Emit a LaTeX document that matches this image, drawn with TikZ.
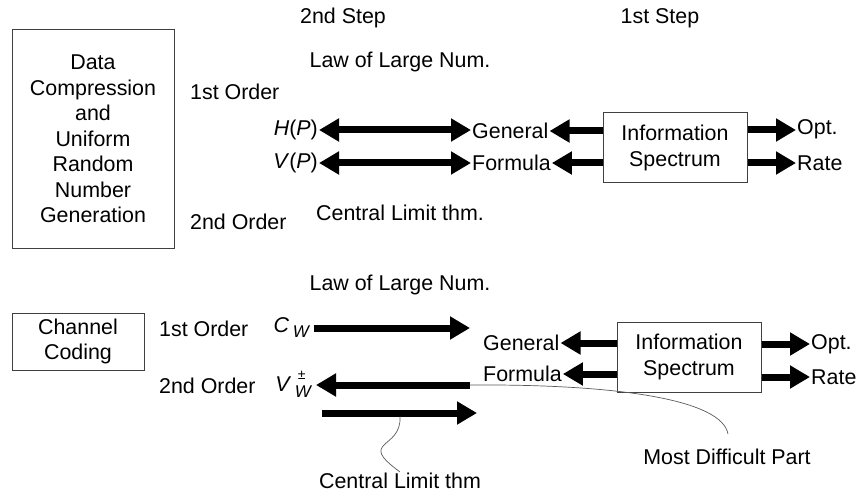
\documentclass[tikz,border=0pt]{standalone}
\usepackage{fontspec}
\setmainfont{Liberation Sans}
\usepackage{tikz}
\usetikzlibrary{arrows.meta,positioning,calc}

\begin{document}
\begin{tikzpicture}[x = 1pt, y = -1pt,
    every node/.style = {font = \fontsize{21.4}{25.5}\selectfont, inner sep = 1pt},
    blockbox/.style = {draw = black!75, line width = 1pt, align = center, inner sep = 0pt},
    bigarrow/.style = {line width = 7pt, -{Triangle[length=20pt, width=22pt]}},
    bothway/.style = {line width = 7pt, {Triangle[length=20pt, width=22pt]}-{Triangle[length=20pt, width=22pt]}},
    callout/.style = {draw = black!65, line width = .7pt}]
    \useasboundingbox (0,0) rectangle (857,500);
    \node (step2) at (343,18) {2nd Step};
    \node (step1) at (660,18) {1st Step};
    % upper part
    \node[blockbox, minimum width = 162pt, minimum height = 218pt] (dcbox) at (93,139)
        {Data\\Compression\\and\\Uniform\\Random\\Number\\Generation};
    \node (lln1) at (400,62) {Law of Large Num.};
    \node[anchor = west] (ord1a) at (189,92) {1st Order};
    \node[anchor = west] (ord2a) at (189,222) {2nd Order};
    \node[anchor = east] (hp) at (319,130) {\textit{H}(\textit{P})};
    \node[anchor = east] (vp) at (319,163) {\textit{V}(\textit{P})};
    \node[anchor = west] (gen1) at (471,131) {General};
    \node[anchor = west] (frm1) at (471,163) {Formula};
    \node[blockbox, minimum width = 144pt, minimum height = 70pt] (spec1) at (675,148)
        {Information\\Spectrum};
    \node[anchor = west] (opt1) at (796,129) {Opt.};
    \node[anchor = west] (rate1) at (796,163) {Rate};
    \node (clt1) at (400,213) {Central Limit thm.};
    \draw[bothway] (hp) -- (gen1.west |- hp);
    \draw[bothway] (vp) -- (frm1.west |- vp);
    \draw[bigarrow] (spec1.west |- gen1) -- (gen1.east);
    \draw[bigarrow] (spec1.west |- frm1) -- (frm1.east);
    \draw[bigarrow] (spec1.east |- hp) -- (opt1.west |- hp);
    \draw[bigarrow] (spec1.east |- rate1) -- (rate1.west);
    % lower part
    \node (lln2) at (400,285) {Law of Large Num.};
    \node[blockbox, minimum width = 132pt, minimum height = 57pt] (ccbox) at (78,341.5)
        {Channel\\Coding};
    \node[anchor = west] (ord1b) at (158,329) {1st Order};
    \node[anchor = west] (ord2b) at (158,386) {2nd Order};
    \node[anchor = east] (cw) at (310,328)
        {\textit{C}\,\raisebox{-5pt}{\fontsize{17}{17}\selectfont\itshape W}};
    \node[anchor = east] (vw) at (312,384)
        {\textit{V}\,\rlap{\hspace{3pt}\raisebox{12pt}{\fontsize{14}{14}\selectfont ±}}%
        \raisebox{-6pt}{\fontsize{17}{17}\selectfont\itshape W}};
    \node[anchor = west] (gen2) at (482,343) {General};
    \node[anchor = west] (frm2) at (482,374) {Formula};
    \node[blockbox, minimum width = 144pt, minimum height = 70pt] (spec2) at (689,357)
        {Information\\Spectrum};
    \node[anchor = west] (opt2) at (810,344) {Opt.};
    \node[anchor = west] (rate2) at (810,377) {Rate};
    \node (mdp) at (727,457) {Most Difficult Part};
    \node (clt2) at (400,481) {Central Limit thm};
    \coordinate (cwend) at (470,328);
    \coordinate (vtail) at (470,385);
    \coordinate (cltail) at (322,413);
    \coordinate (cltend) at (477,413);
    \coordinate (cltmid) at (400,416.5);
    \coordinate (mdptop) at (728,434);
    \draw[bigarrow] (cw.east |- cwend) ++(4,0) -- (cwend);
    \draw[bigarrow] (vtail) -- ($(vw.east |- vtail) + (4,0)$);
    \draw[bigarrow] (cltail) -- (cltend);
    \draw[bigarrow] (spec2.west |- gen2) -- (gen2.east);
    \draw[bigarrow] (spec2.west |- frm2) -- (frm2.east);
    \draw[bigarrow] (spec2.east |- opt2) -- (opt2.west);
    \draw[bigarrow] (spec2.east |- rate2) -- (rate2.west);
    \draw[callout] (vtail) .. controls (620,384) and (722,400) .. (mdptop);
    \draw[callout] (cltmid) .. controls (402,450) and (356,440) .. (clt2.north);
\end{tikzpicture}
\end{document}
